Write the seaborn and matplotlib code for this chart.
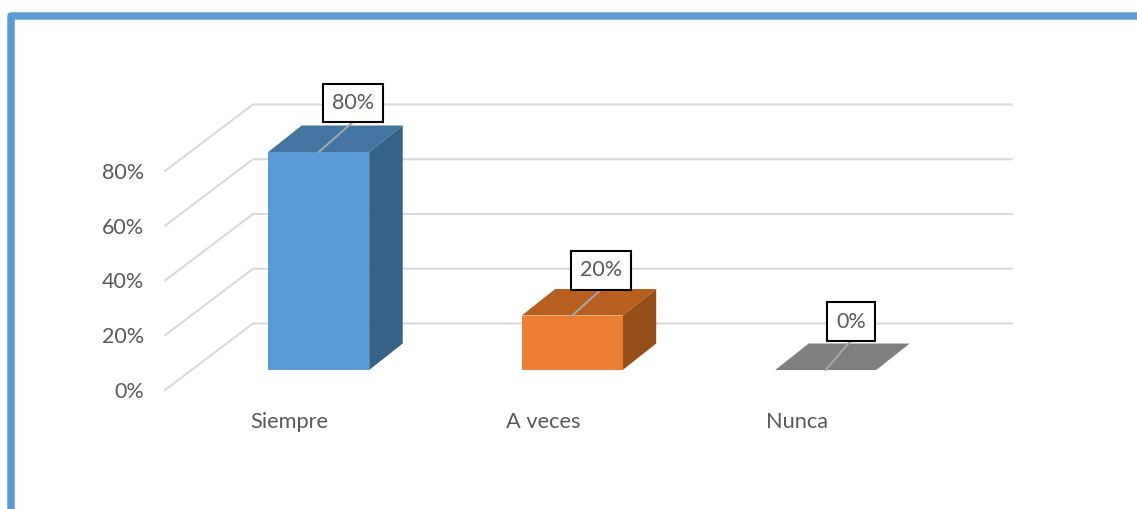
import matplotlib
matplotlib.use("Agg")
import matplotlib.pyplot as plt
import pandas as pd
import seaborn as sns
from matplotlib.lines import Line2D

categories = ["Siempre", "A veces", "Nunca"]
values = [0.80, 0.20, 0.00]
value_labels = ["80%", "20%", "0%"]
grid_values = [0.0, 0.2, 0.4, 0.6, 0.8]
grid_labels = ["0%", "20%", "40%", "60%", "80%"]

front_colors = ["#5B9BD5", "#ED7D31", "#7F7F7F"]
top_colors = ["#4475A1", "#B85F20", "#7F7F7F"]
side_colors = ["#376286", "#954F1B", "#7F7F7F"]
text_color = "#595959"
grid_color = "#D9D9D9"

W, H = 1137, 509
X_STEP = 253.5      # px per category
Y_SCALE = 272.5     # px per 1.0 (100%)
X0_PX, Y0_PX = 318.7, 370

# depth of the fake 3d in data units
BAR_DX, BAR_DY = 33.5 / X_STEP, 26.5 / Y_SCALE
FRONT_X, BACK_X = (165 - X0_PX) / X_STEP, (253 - X0_PX) / X_STEP
RIGHT_X = (1012 - X0_PX) / X_STEP
FRONT_Y, BACK_Y = -20 / Y_SCALE, 46.5 / Y_SCALE
GRID_STRETCH = 219 / 218
label_offsets = [(34, 49), (28.5, 45), (25.5, 48.5)]

sns.set_theme(style="white")
plt.rcParams["font.family"] = ["Lato", "DejaVu Sans"]

df = pd.DataFrame({"categoria": categories, "valor": values})

fig = plt.figure(figsize=(W / 100, H / 100), dpi=100)
ax = fig.add_axes([0, 0, 1, 1])

sns.barplot(data=df, x="categoria", y="valor", hue="categoria", palette=front_colors,
            width=101 / X_STEP, linewidth=0, saturation=1, legend=False, zorder=3, ax=ax)

ax.set_xlim(-X0_PX / X_STEP, (W - X0_PX) / X_STEP)
ax.set_ylim((Y0_PX - H) / Y_SCALE, Y0_PX / Y_SCALE)
ax.axis("off")

# floor/wall lines
for v, lab in zip(grid_values, grid_labels):
    g = v * GRID_STRETCH
    ax.plot([FRONT_X, BACK_X, RIGHT_X], [g + FRONT_Y, g + BACK_Y, g + BACK_Y],
            color=grid_color, lw=1.5, zorder=1, solid_joinstyle="miter")
    ax.annotate(lab, (FRONT_X, g + FRONT_Y), xytext=(-21, -2), textcoords="offset pixels",
                ha="right", va="center", fontsize=15.5, color=text_color)

# top and side faces of each bar
for i, bar in enumerate(ax.patches):
    x0, x1, h = bar.get_x(), bar.get_x() + bar.get_width(), bar.get_height()
    ax.fill([x0, x1, x1 + BAR_DX, x0 + BAR_DX], [h, h, h + BAR_DY, h + BAR_DY],
            color=top_colors[i], lw=0, zorder=4)
    ax.fill([x1, x1 + BAR_DX, x1 + BAR_DX, x1], [0, BAR_DY, h + BAR_DY, h],
            color=side_colors[i], lw=0, zorder=2.5)

    ax.annotate(categories[i], (i, 0), xytext=(-29, -52), textcoords="offset pixels",
                ha="center", va="center", fontsize=15.7, color=text_color)
    ax.annotate(value_labels[i], (i, values[i]), xytext=label_offsets[i], textcoords="offset pixels",
                ha="center", va="center", fontsize=15.5, color=text_color, zorder=6,
                bbox=dict(boxstyle="square,pad=0.42", fc="white", ec="black", lw=1.5),
                arrowprops=dict(arrowstyle="-", color="#A6A6A6", lw=1.5, shrinkA=0, shrinkB=0,
                                relpos=(0.75, 0)))

# blue frame, only top and left are in the crop
fig.add_artist(Line2D([10.75 / W, 10.75 / W, 1.01], [-0.01, 1 - 15.75 / H, 1 - 15.75 / H],
                      transform=fig.transFigure, color="#5B9BD5", lw=5.4, solid_joinstyle="round"))

fig.savefig("out.png", dpi=100)
